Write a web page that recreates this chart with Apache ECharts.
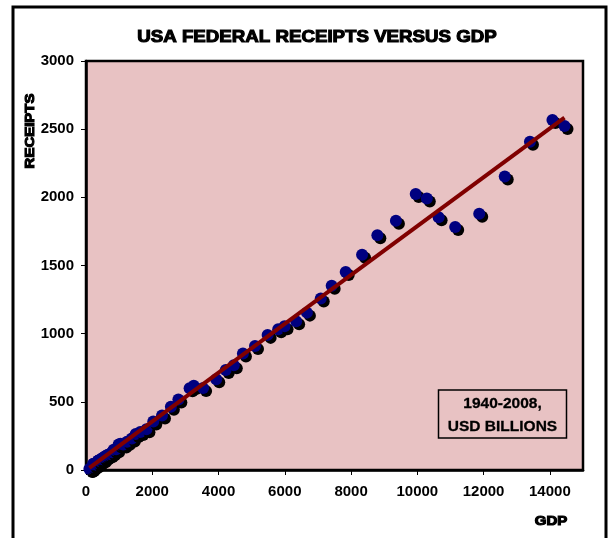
<!DOCTYPE html>
<html>
<head>
<meta charset="utf-8">
<title>USA Federal Receipts versus GDP</title>
<script src="https://cdn.jsdelivr.net/npm/echarts@6/dist/echarts.min.js"></script>
<style>
  html, body { margin: 0; padding: 0; background: #ffffff; }
  #chart { width: 611px; height: 538px; }
</style>
</head>
<body>
<div id="chart"></div>
<script>
// Calendar years covered
const years = [
  1940, 1941, 1942, 1943, 1944, 1945, 1946, 1947, 1948, 1949,
  1950, 1951, 1952, 1953, 1954, 1955, 1956, 1957, 1958, 1959,
  1960, 1961, 1962, 1963, 1964, 1965, 1966, 1967, 1968, 1969,
  1970, 1971, 1972, 1973, 1974, 1975, 1976, 1977, 1978, 1979,
  1980, 1981, 1982, 1983, 1984, 1985, 1986, 1987, 1988, 1989,
  1990, 1991, 1992, 1993, 1994, 1995, 1996, 1997, 1998, 1999,
  2000, 2001, 2002, 2003, 2004, 2005, 2006, 2007, 2008
];

// Nominal GDP, USD billions
const gdp = [
  101.4, 126.7, 161.9, 198.6, 219.8, 223.0, 222.3, 244.2, 269.2, 267.3,
  293.8, 339.3, 358.3, 379.3, 380.4, 414.8, 437.5, 461.1, 467.2, 506.6,
  526.4, 544.8, 585.7, 617.8, 663.6, 719.1, 787.8, 832.6, 910.0, 984.6,
  1038.3, 1126.8, 1237.9, 1382.3, 1499.5, 1637.7, 1824.6, 2030.1, 2293.8, 2562.2,
  2788.1, 3126.8, 3253.2, 3534.6, 3930.9, 4217.5, 4460.1, 4736.4, 5100.4, 5482.1,
  5800.5, 5992.1, 6342.3, 6667.4, 7085.2, 7414.7, 7838.5, 8332.4, 8793.5, 9353.5,
  9951.5, 10286.2, 10642.3, 11142.2, 11867.8, 12638.4, 13398.9, 14077.6, 14441.4
];

// Federal receipts, USD billions
const receipts = [
  6.5, 8.7, 14.6, 24.0, 43.7, 45.2, 39.3, 38.5, 41.6, 39.4,
  39.4, 51.6, 66.2, 69.6, 69.7, 65.5, 74.6, 80.0, 79.6, 79.2,
  92.5, 94.4, 99.7, 106.6, 112.6, 116.8, 130.8, 148.8, 153.0, 186.9,
  192.8, 187.1, 207.3, 230.8, 263.2, 279.1, 298.1, 355.6, 399.6, 463.3,
  517.1, 599.3, 617.8, 600.6, 666.4, 734.0, 769.2, 854.3, 909.2, 991.1,
  1032.0, 1055.0, 1091.2, 1154.3, 1258.6, 1351.8, 1453.1, 1579.2, 1721.7, 1827.5,
  2025.2, 1991.1, 1853.1, 1782.3, 1880.1, 2153.6, 2406.9, 2568.0, 2524.0
];

const titleText = 'USA FEDERAL RECEIPTS VERSUS GDP';
const xAxisTitle = 'GDP';
const yAxisTitle = 'RECEIPTS';
const noteLines = ['1940-2008,', 'USD BILLIONS'];

// Scatter points
const points = gdp.map((g, i) => [g, receipts[i], years[i]]);

// Least-squares linear trend over the data
function linearFit(xs, ys) {
  const n = xs.length;
  let sx = 0, sy = 0, sxx = 0, sxy = 0;
  for (let i = 0; i < n; i++) {
    sx += xs[i]; sy += ys[i];
    sxx += xs[i] * xs[i]; sxy += xs[i] * ys[i];
  }
  const slope = (n * sxy - sx * sy) / (n * sxx - sx * sx);
  const intercept = (sy - slope * sx) / n;
  return { slope, intercept };
}
const fit = linearFit(gdp, receipts);
const xMin = Math.min(...gdp);
const xMax = Math.max(...gdp);
const trend = [
  [xMin, fit.slope * xMin + fit.intercept],
  [xMax, fit.slope * xMax + fit.intercept]
];

const boldFont = {
  fontFamily: 'Liberation Sans, Arial, sans-serif',
  fontWeight: 'bold'
};

// Heavy, slightly widened caption text
function heavyText(text, x, y, size, stretch, extra) {
  return Object.assign({
    type: 'text',
    x: x, y: y,
    scaleX: stretch,
    style: {
      text: text,
      ...boldFont,
      fontSize: size,
      fill: '#000000',
      stroke: '#000000',
      lineWidth: 1.1,
      align: 'center',
      verticalAlign: 'middle'
    },
    z: 10
  }, extra || {});
}

const chart = echarts.init(document.getElementById('chart'), null, { renderer: 'canvas' });

chart.setOption({
  backgroundColor: '#ffffff',
  animation: false,
  grid: {
    left: 86, right: 28, top: 61, bottom: 68,
    show: true,
    backgroundColor: '#e8c2c3',
    borderColor: '#000000',
    borderWidth: 2.5
  },
  xAxis: {
    type: 'value',
    min: 0, max: 15000, interval: 2000,
    axisLine: { show: true, lineStyle: { color: '#000000', width: 2.5 } },
    axisTick: { show: true, length: 5, lineStyle: { color: '#000000', width: 1 } },
    splitLine: { show: false },
    axisLabel: {
      ...boldFont, color: '#000000', fontSize: 15, margin: 14,
      showMaxLabel: false,
      formatter: v => String(v)
    }
  },
  yAxis: {
    type: 'value',
    min: 0, max: 3000, interval: 500,
    axisLine: { show: true, lineStyle: { color: '#000000', width: 2.5 } },
    axisTick: { show: true, length: 5, lineStyle: { color: '#000000', width: 1 } },
    splitLine: { show: false },
    axisLabel: {
      ...boldFont, color: '#000000', fontSize: 15, margin: 12,
      formatter: v => String(v)
    }
  },
  series: [
    {
      type: 'scatter',
      data: points,
      symbol: 'circle',
      symbolSize: 12,
      itemStyle: {
        color: '#000080',
        opacity: 1,
        shadowColor: '#000000',
        shadowBlur: 0,
        shadowOffsetX: 3,
        shadowOffsetY: 3
      },
      z: 2
    },
    {
      type: 'line',
      data: trend,
      symbol: 'none',
      lineStyle: { color: '#800000', width: 4 },
      z: 3
    }
  ],
  graphic: [
    {
      type: 'rect',
      shape: { x: 13, y: 7, width: 593, height: 545 },
      style: { fill: null, stroke: '#000000', lineWidth: 3 },
      z: 10
    },
    heavyText(titleText, 317, 37, 17, 1.1),
    heavyText(yAxisTitle, 30, 131, 13, 1.15, { rotation: Math.PI / 2 }),
    heavyText(xAxisTitle, 551, 521, 13, 1.15),
    {
      type: 'rect',
      shape: { x: 438.5, y: 390, width: 128, height: 48 },
      style: { fill: null, stroke: '#000000', lineWidth: 1.5 },
      z: 10
    },
    {
      type: 'text',
      x: 502.5, y: 403.5,
      style: {
        text: noteLines[0], ...boldFont, fontSize: 15.5, fill: '#000000',
        stroke: '#000000', lineWidth: 0.3,
        align: 'center', verticalAlign: 'middle'
      },
      z: 10
    },
    {
      type: 'text',
      x: 502.5, y: 426.5,
      style: {
        text: noteLines[1], ...boldFont, fontSize: 15.5, fill: '#000000',
        stroke: '#000000', lineWidth: 0.3,
        align: 'center', verticalAlign: 'middle'
      },
      z: 10
    }
  ]
});
</script>
</body>
</html>
